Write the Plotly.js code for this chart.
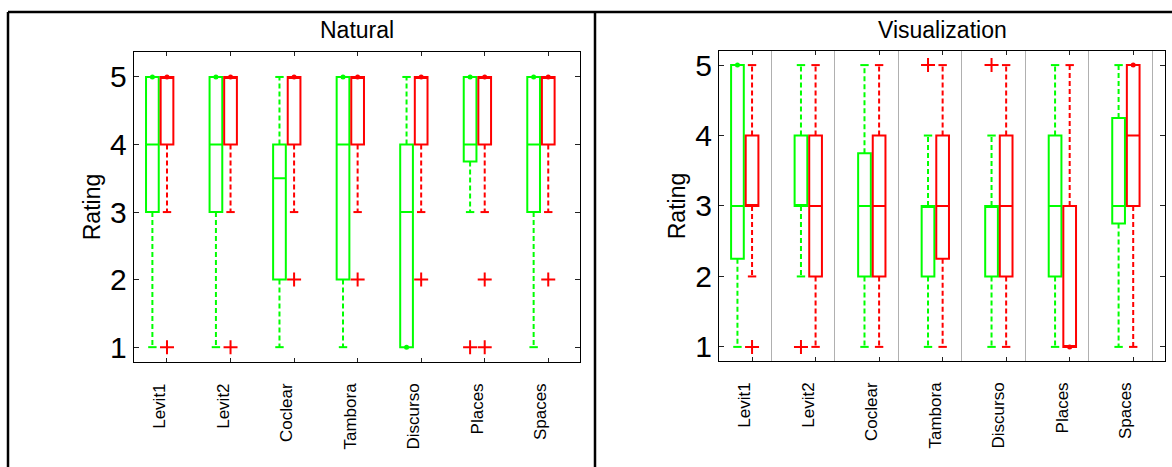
<!DOCTYPE html>
<html>
<head>
<meta charset="utf-8">
<script src="https://cdn.plot.ly/plotly-3.0.1.min.js"></script>
<style>html,body{margin:0;padding:0;background:#fff;}#chart{width:1172px;height:467px;}</style>
</head>
<body>
<div id="chart"></div>
<script>
// ---------- data ----------
const categories = ['Levit1','Levit2','Coclear','Tambora','Discurso','Places','Spaces'];
const yTicks = [1, 2, 3, 4, 5];

// Natural - green
const natGreenQ1  = [3, 3, 2, 2, 1, 3.75, 3];
const natGreenMed = [4, 4, 3.5, 4, 3, 4, 4];
const natGreenQ3  = [5, 5, 4, 5, 4, 5, 5];
const natGreenLo  = [1, 1, 1, 1, 1, 3, 1];
const natGreenHi  = [5, 5, 5, 5, 5, 5, 5];
const natGreenOut = [[], [], [], [], [], [1], []];
// Natural - red
const natRedQ1  = [4, 4, 4, 4, 4, 4, 4];
const natRedMed = [5, 5, 5, 5, 5, 5, 5];
const natRedQ3  = [5, 5, 5, 5, 5, 5, 5];
const natRedLo  = [3, 3, 3, 3, 3, 3, 3];
const natRedHi  = [5, 5, 5, 5, 5, 5, 5];
const natRedOut = [[1], [1], [2], [2], [2], [2, 1], [2]];

// Visualization - green
const visGreenQ1  = [2.25, 3, 2, 2, 2, 2, 2.75];
const visGreenMed = [3, 3, 3, 3, 3, 3, 3];
const visGreenQ3  = [5, 4, 3.75, 3, 3, 4, 4.25];
const visGreenLo  = [1, 2, 1, 1, 1, 1, 1];
const visGreenHi  = [5, 5, 5, 4, 4, 5, 5];
const visGreenOut = [[], [1], [], [5], [5], [], []];
// Visualization - red
const visRedQ1  = [3, 2, 2, 2.25, 2, 1, 3];
const visRedMed = [3, 3, 3, 3, 3, 1, 4];
const visRedQ3  = [4, 4, 4, 4, 4, 3, 5];
const visRedLo  = [2, 1, 1, 1, 1, 1, 1];
const visRedHi  = [5, 5, 5, 5, 5, 5, 5];
const visRedOut = [[1], [], [], [], [], [], []];

// ---------- styling ----------
const GREEN = '#00ff00', RED = '#ff0000';
const FONT = 'Liberation Sans, Arial, Helvetica, sans-serif';
const greenOffset = 0.23, boxWidth = 0.2;
const pos = categories.map((_, i) => i + 1);
const labelPos = pos.map(p => p - greenOffset / 2);
const sepPos = pos.map(p => p + 0.3);

function series(color, offset, q1, med, q3, lo, hi, out, xa, ya) {
  const xs = pos.map(p => p - offset);
  const traces = [];
  traces.push({
    type: 'box', x: xs, q1: q1, median: med, q3: q3,
    lowerfence: q1, upperfence: q3, width: boxWidth, whiskerwidth: 0,
    line: {color: color, width: 2}, fillcolor: 'rgba(0,0,0,0)',
    boxpoints: false, xaxis: xa, yaxis: ya, hoverinfo: 'skip', showlegend: false
  });
  // dashed whiskers
  const wx = [], wy = [];
  xs.forEach((x, i) => {
    if (hi[i] > q3[i]) { wx.push(x, x, null); wy.push(q3[i], hi[i], null); }
    if (lo[i] < q1[i]) { wx.push(x, x, null); wy.push(q1[i], lo[i], null); }
  });
  traces.push({type: 'scatter', mode: 'lines', x: wx, y: wy, xaxis: xa, yaxis: ya,
    line: {color: color, width: 2, dash: '5px,3px'}, hoverinfo: 'skip', showlegend: false});
  // caps
  const cx = [], cy = [];
  xs.forEach((x, i) => {
    if (hi[i] > q3[i]) { cx.push(x); cy.push(hi[i]); }
    if (lo[i] < q1[i]) { cx.push(x); cy.push(lo[i]); }
  });
  traces.push({type: 'scatter', mode: 'markers', x: cx, y: cy, xaxis: xa, yaxis: ya,
    marker: {symbol: 'line-ew', size: 6, line: {color: color, width: 2}},
    hoverinfo: 'skip', showlegend: false});
  // zero-length whisker dots
  const dx = [], dy = [];
  xs.forEach((x, i) => {
    if (hi[i] === q3[i]) { dx.push(x); dy.push(hi[i]); }
    if (lo[i] === q1[i]) { dx.push(x); dy.push(lo[i]); }
  });
  traces.push({type: 'scatter', mode: 'markers', x: dx, y: dy, xaxis: xa, yaxis: ya,
    marker: {symbol: 'circle', size: 5, color: color},
    hoverinfo: 'skip', showlegend: false});
  // outliers
  const ox = [], oy = [];
  xs.forEach((x, i) => out[i].forEach(v => { ox.push(x); oy.push(v); }));
  traces.push({type: 'scatter', mode: 'markers', x: ox, y: oy, xaxis: xa, yaxis: ya,
    marker: {symbol: 'cross-thin', size: 10, line: {color: RED, width: 2}},
    hoverinfo: 'skip', showlegend: false});
  return traces;
}

const data = [].concat(
  series(GREEN, greenOffset, natGreenQ1, natGreenMed, natGreenQ3, natGreenLo, natGreenHi, natGreenOut, 'x', 'y'),
  series(RED, 0, natRedQ1, natRedMed, natRedQ3, natRedLo, natRedHi, natRedOut, 'x', 'y'),
  series(GREEN, greenOffset, visGreenQ1, visGreenMed, visGreenQ3, visGreenLo, visGreenHi, visGreenOut, 'x2', 'y2'),
  series(RED, 0, visRedQ1, visRedMed, visRedQ3, visRedLo, visRedHi, visRedOut, 'x2', 'y2'),
  [
    {type: 'scatter', mode: 'markers', x: labelPos, y: labelPos.map(() => null), xaxis: 'x3', yaxis: 'y', showlegend: false, hoverinfo: 'skip'},
    {type: 'scatter', mode: 'markers', x: labelPos, y: labelPos.map(() => null), xaxis: 'x4', yaxis: 'y2', showlegend: false, hoverinfo: 'skip'}
  ]
);

const xRange = [0.48, 7.5];
function tickAxis(domain, anchor, withGrid) {
  const ax = {
    domain: domain, anchor: anchor, range: xRange, autorange: false,
    tickmode: 'array', tickvals: pos, ticks: 'inside', ticklen: 4, tickcolor: '#222', tickwidth: 1,
    showticklabels: false, showline: true, linecolor: '#000', linewidth: 1.2, mirror: 'ticks',
    showgrid: false, zeroline: false, fixedrange: true
  };
  if (withGrid) {
    ax.minor = {tickmode: 'array', tickvals: sepPos, showgrid: true, gridcolor: '#b0b0b0', gridwidth: 1, ticks: ''};
  }
  return ax;
}
function labelAxis(overlay, anchor) {
  return {
    overlaying: overlay, anchor: anchor, range: xRange, autorange: false,
    tickmode: 'array', tickvals: labelPos, ticktext: categories, tickangle: -90,
    ticks: '', showline: false, showgrid: false, zeroline: false,
    tickfont: {family: FONT, size: 17, color: '#000'}, ticklabelstandoff: 17, fixedrange: true
  };
}
function yAxis(domain, anchor, range) {
  return {
    domain: domain, anchor: anchor, range: range, autorange: false,
    tickmode: 'array', tickvals: yTicks, ticks: 'inside', ticklen: 5, tickcolor: '#222',
    showline: true, linecolor: '#000', linewidth: 1.2, mirror: 'ticks',
    showgrid: false, zeroline: false, fixedrange: true,
    tickfont: {family: FONT, size: 30, color: '#000'},
    title: {text: 'Rating', font: {family: FONT, size: 23, color: '#000'}, standoff: 3}
  };
}

const lineStyle = {color: '#000', width: 2.5};
const layout = {
  width: 1172, height: 467,
  margin: {l: 0, r: 0, t: 0, b: 0},
  paper_bgcolor: '#fff', plot_bgcolor: '#fff',
  showlegend: false, boxmode: 'overlay',
  font: {family: FONT, color: '#000'},
  xaxis: tickAxis([0.1143, 0.4949], 'y', false),
  yaxis: yAxis([0.2248, 0.8887], 'x', [0.78, 5.37]),
  xaxis2: tickAxis([0.6135, 0.9940], 'y2', true),
  yaxis2: yAxis([0.227, 0.8908], 'x2', [0.8, 5.2]),
  xaxis3: labelAxis('x', 'y'),
  xaxis4: labelAxis('x2', 'y2'),
  annotations: [
    {text: 'Natural', xref: 'paper', yref: 'paper', x: 0.3046, y: 0.9358, xanchor: 'center', yanchor: 'middle',
     showarrow: false, font: {family: FONT, size: 23, color: '#000'}},
    {text: 'Visualization', xref: 'paper', yref: 'paper', x: 0.8038, y: 0.9358, xanchor: 'center', yanchor: 'middle',
     showarrow: false, font: {family: FONT, size: 23, color: '#000'}}
  ],
  shapes: [
    {type: 'line', xref: 'paper', yref: 'paper', x0: 8 / 1172, x1: 1, y0: 455 / 467, y1: 455 / 467, line: lineStyle},
    {type: 'line', xref: 'paper', yref: 'paper', x0: 8 / 1172, x1: 8 / 1172, y0: 0, y1: 455 / 467, line: lineStyle},
    {type: 'line', xref: 'paper', yref: 'paper', x0: 595 / 1172, x1: 595 / 1172, y0: 0, y1: 455 / 467, line: lineStyle}
  ]
};

Plotly.newPlot('chart', data, layout, {staticPlot: true, displayModeBar: false});
</script>
</body>
</html>
